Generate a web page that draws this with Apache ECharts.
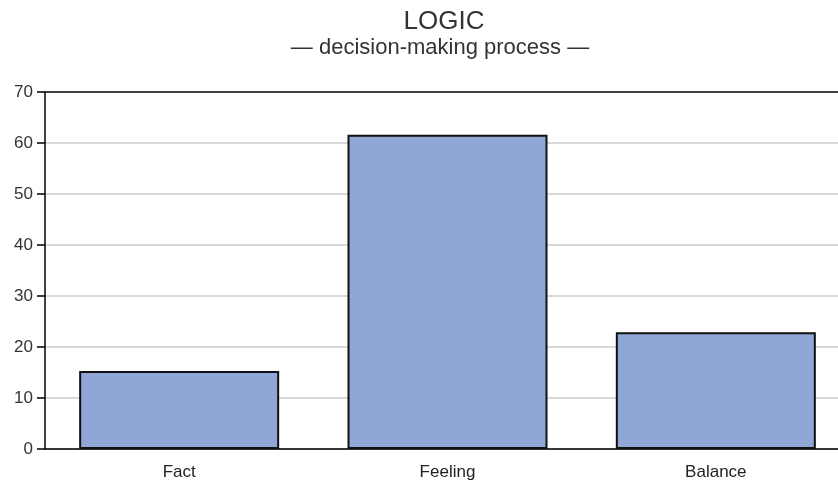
<!DOCTYPE html>
<html>
<head>
<meta charset="utf-8">
<script src="https://cdn.jsdelivr.net/npm/echarts@6/dist/echarts.min.js"></script>
<style>
  html, body { margin: 0; padding: 0; background: #fff; overflow: hidden; }
  /* chart is a little wider than the window: the plot area runs past the right edge */
  #chart { width: 850px; height: 489px; }
</style>
</head>
<body>
<div id="chart"></div>
<script>
// data
const categories = ['Fact', 'Feeling', 'Balance'];
const values = [15.3, 61.6, 22.9];
const yTicks = { min: 0, max: 70, interval: 10 };

const chart = echarts.init(document.getElementById('chart'));
const font = 'Liberation Sans, Arial, sans-serif';

chart.setOption({
  animation: false,
  title: [
    {
      text: 'LOGIC',
      left: 439, top: 4, textAlign: 'center',
      textStyle: { fontFamily: font, fontSize: 26, fontWeight: 'normal', color: '#333' }
    },
    {
      text: '— decision-making process —',
      left: 435, top: 32, textAlign: 'center',
      textStyle: { fontFamily: font, fontSize: 22, fontWeight: 'normal', color: '#333' }
    }
  ],
  grid: { left: 45, top: 92, height: 357, width: 805 },
  xAxis: {
    type: 'category',
    data: categories,
    axisLine: { lineStyle: { color: '#000', width: 1.5 } },
    axisTick: { alignWithLabel: true, length: 8, lineStyle: { color: '#000', width: 1.5 } },
    axisLabel: { fontFamily: font, fontSize: 17, color: '#222', margin: 15 }
  },
  yAxis: {
    type: 'value',
    min: yTicks.min, max: yTicks.max, interval: yTicks.interval,
    axisLine: { show: true, lineStyle: { color: '#000', width: 1.5 } },
    axisTick: { show: true, length: 8, lineStyle: { color: '#000', width: 1.5 } },
    axisLabel: { fontFamily: font, fontSize: 17, color: '#333', margin: 12 },
    splitLine: {
      show: true,
      lineStyle: { color: ['#ccc', '#ccc', '#ccc', '#ccc', '#ccc', '#ccc', '#ccc', '#000'], width: 1.5 }
    }
  },
  series: [{
    type: 'bar',
    data: values,
    barWidth: 200,
    itemStyle: { color: '#8FA6D6', borderColor: '#111', borderWidth: 2 }
  }]
});
</script>
</body>
</html>
